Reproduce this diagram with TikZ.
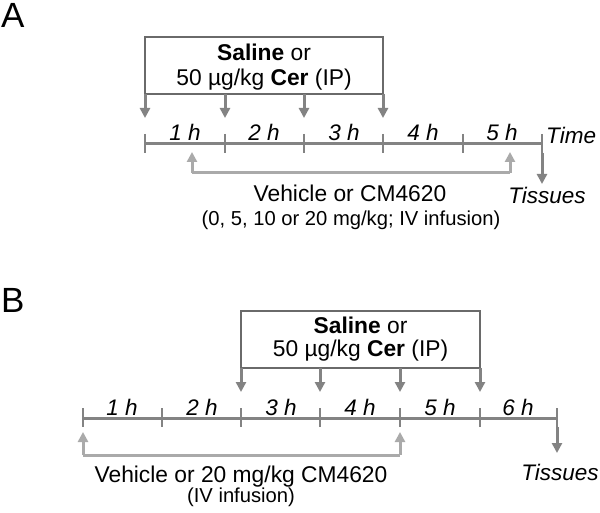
\documentclass[tikz,border=0pt]{standalone}
\usepackage{fontspec}
\setmainfont{Liberation Sans}
\usetikzlibrary{arrows.meta,calc}
\definecolor{axisgray}{HTML}{838383}
\definecolor{boxgray}{HTML}{6A6A6A}
\definecolor{vehgray}{HTML}{AAAAAA}
\tikzset{
  txt/.style={font=\fontsize{22.8}{26}\selectfont, inner sep=0pt},
  smalltxt/.style={font=\fontsize{20.2}{23}\selectfont, inner sep=0pt},
  hlab/.style={font=\fontsize{22.5}{26}\selectfont\itshape, inner sep=0pt},
  panel/.style={font=\fontsize{35}{40}\selectfont, inner sep=0pt, anchor=north west},
  tbox/.style={draw=boxgray, line width=1.8pt},
  axis/.style={draw=axisgray, line width=3pt},
  tick/.style={draw=axisgray, line width=2.8pt},
  darr/.style={draw=axisgray, line width=3pt, -{Triangle[width=10pt,length=10pt]}},
  varr/.style={draw=vehgray, line width=3pt, -{Triangle[width=10pt,length=10pt]}},
}
\begin{document}
\begin{tikzpicture}[x=1pt,y=-1pt]
\useasboundingbox (0,0) rectangle (600,513);
% ---------- Panel A ----------
\node[panel] (labA) at (1,3) {A};
\draw[tbox] (145,37) rectangle (383,94);
\node[txt] (boxA1) at (264,52) {\textbf{Saline} or};
\node[txt] (boxA2) at (264,80) {50 µg/kg \textbf{Cer} (IP)};
\foreach \i/\x in {0/145,1/225,2/304,3/383,4/463,5/542} {
  \coordinate (a\i) at (\x,144);
  \coordinate (at\i) at (\x,94);
  \coordinate (ab\i) at (\x,118);
}
\draw[axis] (a0) -- (a5);
\foreach \i in {0,...,5} \draw[tick] ($(a\i)+(0,-10)$) -- ($(a\i)+(0,9)$);
\foreach \i in {0,...,3} \draw[darr] (at\i) -- (ab\i);
\foreach \n/\x in {1/185,2/264,3/344,4/423,5/502} \node[hlab] (ahl\n) at (\x,132) {\n\ h};
\node[hlab, anchor=west] (timeA) at (546,135) {Time};
\coordinate (tisAtop) at (542,153);
\node[hlab] (tisA) at (547,195) {Tissues};
\draw[darr] (tisAtop) -- ++(0,31);
\coordinate (vA0) at (192,173);
\coordinate (vA1) at (510,173);
\coordinate (vA0t) at (192,152);
\coordinate (vA1t) at (510,152);
\draw[varr] (vA0) -- (vA0t);
\draw[varr] (vA1) -- (vA1t);
\draw[draw=vehgray, line width=3pt] (vA0) -- (vA1);
\node[txt] (vehA) at (350,193) {Vehicle or CM4620};
\node[smalltxt] (vehA2) at (351,220) {(0, 5, 10 or 20 mg/kg; IV infusion)};
% ---------- Panel B ----------
\node[panel] (labB) at (1,288) {B};
\draw[tbox] (241,311) rectangle (480,368);
\node[txt] (boxB1) at (360.5,325) {\textbf{Saline} or};
\node[txt] (boxB2) at (360.5,351) {50 µg/kg \textbf{Cer} (IP)};
\foreach \i/\x in {0/83,1/162,2/241,3/320,4/400,5/480,6/557} {
  \coordinate (b\i) at (\x,418);
}
\foreach \i/\x in {2/241,3/320,4/400,5/480} {
  \coordinate (bt\i) at (\x,368);
  \coordinate (bb\i) at (\x,392);
}
\draw[axis] (b0) -- (b6);
\foreach \i in {0,...,6} \draw[tick] ($(b\i)+(0,-10)$) -- ($(b\i)+(0,9)$);
\foreach \i in {2,...,5} \draw[darr] (bt\i) -- (bb\i);
\foreach \n/\x in {1/122,2/202,3/281,4/360,5/440,6/518} \node[hlab] (bhl\n) at (\x,407) {\n\ h};
\coordinate (tisBtop) at (557,427);
\node[hlab] (tisB) at (560,472) {Tissues};
\draw[darr] (tisBtop) -- ++(0,26);
\coordinate (vB0) at (83,455);
\coordinate (vB1) at (400,455);
\coordinate (vB0t) at (83,432);
\coordinate (vB1t) at (400,432);
\draw[varr] (vB0) -- (vB0t);
\draw[varr] (vB1) -- (vB1t);
\draw[draw=vehgray, line width=3pt] (vB0) -- (vB1);
\node[txt] (vehB) at (241,477) {Vehicle or 20 mg/kg CM4620};
\node[smalltxt] (vehB2) at (241,497) {(IV infusion)};
\end{tikzpicture}
\end{document}
